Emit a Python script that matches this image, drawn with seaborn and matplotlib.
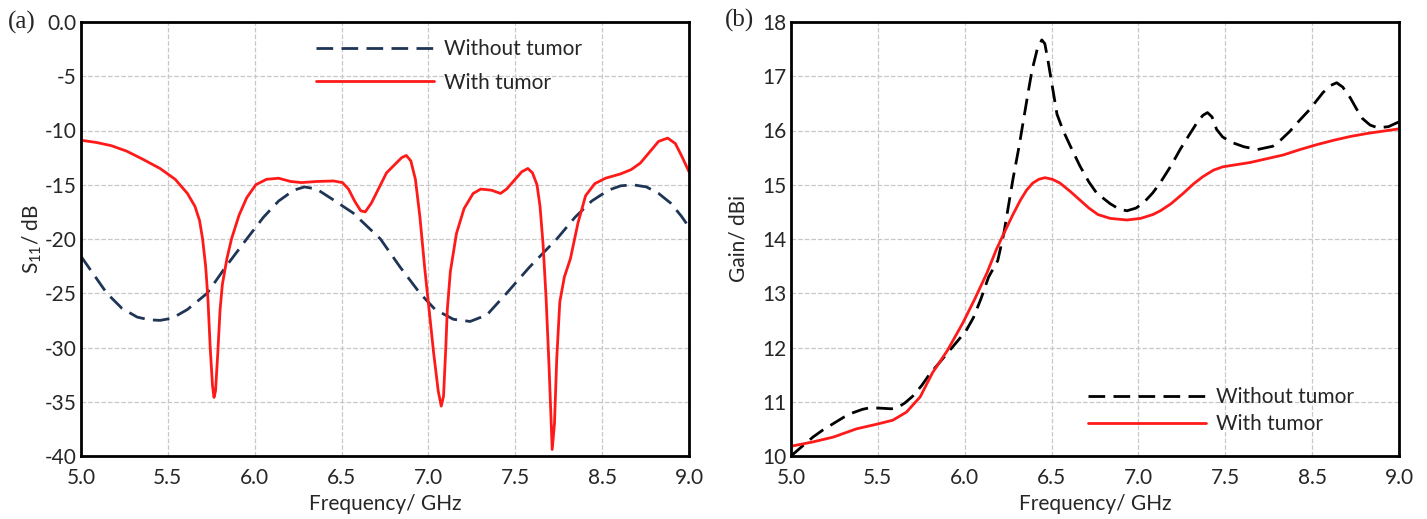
import numpy as np
import pandas as pd
import matplotlib
matplotlib.use("Agg")
import matplotlib.pyplot as plt
import seaborn as sns

# ---------------------------------------------------------------
# (a) S11 data (frequency on a linear 5-9 axis)
# ---------------------------------------------------------------
freq_a_without = [5.00, 5.08, 5.17, 5.27, 5.37, 5.45, 5.52, 5.60, 5.70, 5.83,
                  5.95, 6.09, 6.20, 6.30, 6.40, 6.47, 6.55, 6.65, 6.79, 6.88,
                  6.97, 7.10, 7.23, 7.33, 7.45, 7.56, 7.67, 7.80, 7.95, 8.04,
                  8.13, 8.25, 8.36, 8.47, 8.55, 8.63, 8.72, 8.80, 8.88, 8.95, 9.00]
s11_without = [-21.6, -23.2, -25.0, -26.4, -27.2, -27.45, -27.5, -27.3, -26.5, -25.0,
               -22.6, -20.0, -18.0, -16.5, -15.5, -15.2, -15.4, -16.3, -17.6, -18.8,
               -20.0, -22.6, -25.0, -26.5, -27.4, -27.6, -27.0, -25.0, -22.6, -21.3,
               -20.0, -18.0, -16.5, -15.5, -15.1, -15.0, -15.2, -15.8, -16.7, -17.9, -18.9]

freq_a_with = [5.00, 5.10, 5.20, 5.30, 5.40, 5.52, 5.62, 5.70, 5.75, 5.78,
               5.80, 5.82, 5.835, 5.85, 5.865, 5.875, 5.885, 5.90, 5.915, 5.93,
               5.96, 5.99, 6.04, 6.09, 6.15, 6.22, 6.30, 6.38, 6.45, 6.55,
               6.66, 6.72, 6.76, 6.80, 6.84, 6.87, 6.91, 6.96, 7.01, 7.06,
               7.11, 7.14, 7.17, 7.20, 7.23, 7.26, 7.29, 7.32, 7.35, 7.37,
               7.385, 7.40, 7.41, 7.43, 7.47, 7.52, 7.58, 7.63, 7.70, 7.76,
               7.80, 7.85, 7.90, 7.94, 7.97, 8.00, 8.02, 8.04, 8.06, 8.08,
               8.10, 8.115, 8.13, 8.15, 8.18, 8.22, 8.27, 8.32, 8.38, 8.45,
               8.55, 8.62, 8.68, 8.74, 8.80, 8.86, 8.91, 8.95, 9.00]
s11_with = [-10.9, -11.1, -11.4, -11.9, -12.6, -13.5, -14.5, -15.8, -17.0, -18.3,
            -20.0, -22.5, -25.5, -30.0, -33.5, -34.6, -34.0, -30.5, -26.5, -24.2,
            -21.8, -20.0, -17.8, -16.2, -15.0, -14.5, -14.4, -14.7, -14.8, -14.7,
            -14.65, -14.8, -15.4, -16.5, -17.4, -17.5, -16.7, -15.3, -13.9, -13.2,
            -12.5, -12.3, -12.8, -14.5, -18.0, -22.5, -26.5, -30.5, -34.0, -35.4,
            -34.5, -30.0, -26.5, -23.0, -19.5, -17.2, -15.8, -15.4, -15.5, -15.8,
            -15.4, -14.6, -13.8, -13.5, -13.9, -15.0, -17.0, -20.5, -25.5, -32.0,
            -39.4, -37.0, -31.0, -25.8, -23.5, -21.8, -18.5, -16.0, -14.9, -14.4,
            -14.0, -13.6, -13.0, -12.0, -11.0, -10.7, -11.2, -12.3, -13.8]

# ---------------------------------------------------------------
# (b) Gain data
# ---------------------------------------------------------------
freq_b_without = [5.00, 5.07, 5.145, 5.21, 5.28, 5.35, 5.41, 5.47, 5.52, 5.60,
                  5.66, 5.70, 5.75, 5.80, 5.86, 5.91, 5.97, 6.03, 6.09, 6.15,
                  6.20, 6.25, 6.30, 6.36, 6.40, 6.43, 6.46, 6.50, 6.53, 6.56,
                  6.585, 6.62, 6.65, 6.67, 6.69, 6.72, 6.75, 6.79, 6.84, 6.90,
                  6.96, 7.01, 7.10, 7.16, 7.21, 7.27, 7.32, 7.38, 7.43, 7.50,
                  7.56, 7.62, 7.67, 7.71, 7.74, 7.77, 7.80, 7.84, 7.90, 7.98,
                  8.07, 8.17, 8.22, 8.28, 8.35, 8.41, 8.50, 8.55, 8.59, 8.63,
                  8.68, 8.72, 8.76, 8.81, 8.86, 8.93, 9.00]
gain_without = [10.0, 10.17, 10.35, 10.48, 10.6, 10.72, 10.8, 10.86, 10.89, 10.88,
                10.87, 10.89, 10.98, 11.1, 11.3, 11.5, 11.7, 11.9, 12.1, 12.3,
                12.55, 12.9, 13.3, 13.6, 14.1, 14.6, 15.1, 15.7, 16.2, 16.7,
                17.1, 17.5, 17.67, 17.6, 17.3, 16.8, 16.3, 16.0, 15.7, 15.35,
                15.05, 14.85, 14.65, 14.55, 14.52, 14.57, 14.67, 14.85, 15.04, 15.35,
                15.65, 15.92, 16.14, 16.28, 16.33, 16.25, 16.02, 15.88, 15.78, 15.7,
                15.65, 15.71, 15.82, 15.98, 16.2, 16.38, 16.70, 16.83, 16.88, 16.8,
                16.6, 16.4, 16.22, 16.1, 16.05, 16.07, 16.16]

freq_b_with = [5.00, 5.145, 5.28, 5.43, 5.57, 5.67, 5.76, 5.85, 5.93, 6.03,
               6.13, 6.21, 6.29, 6.35, 6.40, 6.46, 6.51, 6.55, 6.59, 6.63,
               6.67, 6.72, 6.77, 6.84, 6.90, 6.96, 7.02, 7.10, 7.21, 7.30,
               7.38, 7.43, 7.50, 7.58, 7.65, 7.71, 7.78, 7.84, 7.93, 8.02,
               8.13, 8.24, 8.35, 8.46, 8.57, 8.68, 8.80, 8.90, 9.00]
gain_with = [10.18, 10.26, 10.35, 10.5, 10.59, 10.66, 10.81, 11.09, 11.53, 11.95,
             12.45, 12.9, 13.38, 13.8, 14.1, 14.45, 14.72, 14.9, 15.03, 15.1,
             15.13, 15.1, 15.03, 14.87, 14.72, 14.57, 14.45, 14.38, 14.35, 14.38,
             14.45, 14.52, 14.65, 14.84, 15.02, 15.15, 15.27, 15.33, 15.37, 15.41,
             15.48, 15.55, 15.65, 15.74, 15.82, 15.89, 15.95, 15.99, 16.03]

# tick labels as printed in the figure (8 evenly spaced ticks)
x_tick_labels = ['5.0', '5.5', '6.0', '6.5', '7.0', '7.5', '8.5', '9.0']
y_ticks_a = [0, -5, -10, -15, -20, -25, -30, -35, -40]
y_tick_labels_a = ['0.0', '-5', '-10', '-15', '-20', '-25', '-30', '-35', '-40']
y_ticks_b = [10, 11, 12, 13, 14, 15, 16, 17, 18]

RED = '#ff1a1a'
NAVY = '#1f3556'
DASH = (0, (6, 3))

sns.set_style("whitegrid", {"grid.linestyle": "--", "grid.color": "#c8c8c8",
                            "axes.edgecolor": "black"})
plt.rcParams['font.family'] = ['Lato', 'DejaVu Sans']
plt.rcParams['mathtext.default'] = 'regular'

W, H = 1427, 519
fig = plt.figure(figsize=(W / 100, H / 100), dpi=100)
ax_a = fig.add_axes([81 / W, 1 - 456 / H, 608 / W, 434 / H])
ax_b = fig.add_axes([791 / W, 1 - 456 / H, 608 / W, 434 / H])

df_a = pd.DataFrame({'f': freq_a_without, 'v': s11_without})
df_a2 = pd.DataFrame({'f': freq_a_with, 'v': s11_with})
sns.lineplot(data=df_a, x='f', y='v', ax=ax_a, color=NAVY, linestyle=DASH,
             linewidth=2, label='Without tumor')
sns.lineplot(data=df_a2, x='f', y='v', ax=ax_a, color=RED, linewidth=2,
             label='With tumor')

df_b = pd.DataFrame({'f': freq_b_without, 'v': gain_without})
df_b2 = pd.DataFrame({'f': freq_b_with, 'v': gain_with})
sns.lineplot(data=df_b, x='f', y='v', ax=ax_b, color='black', linestyle=DASH,
             linewidth=2, label='Without tumor')
sns.lineplot(data=df_b2, x='f', y='v', ax=ax_b, color=RED, linewidth=2,
             label='With tumor')

for ax in (ax_a, ax_b):
    ax.set_xlim(5, 9)
    ax.set_xticks(np.linspace(5, 9, len(x_tick_labels)))
    ax.set_xticklabels(x_tick_labels)
    ax.tick_params(length=0, labelsize=15)
    ax.tick_params(axis='x', pad=9)
    ax.tick_params(axis='y', pad=3)
    ax.grid(True, linestyle='--', color='#c8c8c8', linewidth=0.9)
    for sp in ax.spines.values():
        sp.set_linewidth(2)
        sp.set_color('black')
    ax.set_xlabel('Frequency/ GHz', fontsize=15, labelpad=4)

ax_a.set_ylim(-40, 0)
ax_a.set_yticks(y_ticks_a)
ax_a.set_yticklabels(y_tick_labels_a)
ax_a.set_ylabel('S$_{11}$/ dB', fontsize=15, labelpad=0.5)

ax_b.set_ylim(10, 18)
ax_b.set_yticks(y_ticks_b)
ax_b.set_ylabel('Gain/ dBi', fontsize=15, labelpad=10)

leg_kw = dict(frameon=False, fontsize=15, handlelength=5.7, handletextpad=0.45,
              borderpad=0, borderaxespad=0)
ax_a.legend(loc='upper left', bbox_to_anchor=(0.386, 0.96), labelspacing=0.64, **leg_kw)
ax_b.legend(loc='lower left', bbox_to_anchor=(0.488, 0.05), labelspacing=0.35, **leg_kw)

fig.text(8 / W, 1 - 29 / H, '(a)', family='Liberation Serif', fontsize=18, va='baseline')
fig.text(725 / W, 1 - 27 / H, '(b)', family='Liberation Serif', fontsize=18, va='baseline')

fig.savefig('out.png', dpi=100)
